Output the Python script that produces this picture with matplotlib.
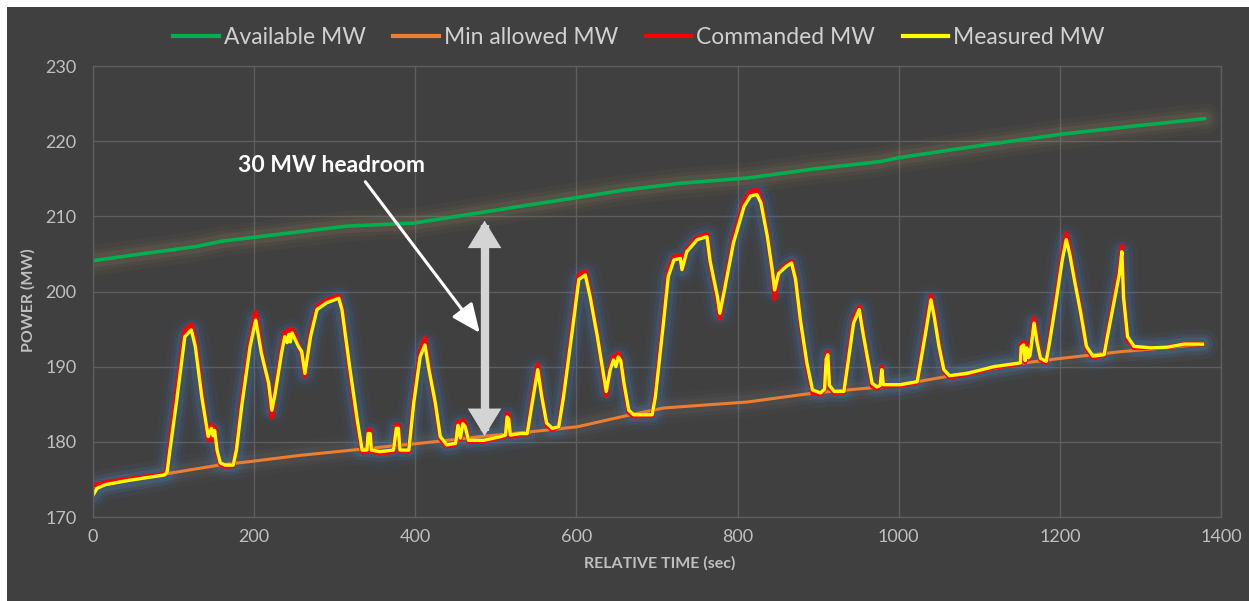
import matplotlib
matplotlib.use("Agg")
import matplotlib.pyplot as plt
from matplotlib.lines import Line2D
from matplotlib.patches import Rectangle

# ---------------- data ----------------
t_sec = [0, 5, 15, 40, 89, 92, 95, 104, 114, 122,
         127, 135, 143, 147, 149, 151, 154, 158, 164, 174,
         178, 185, 195, 202, 209, 218, 222, 226, 234, 238,
         241, 243, 245, 247, 251, 255, 259, 263, 270, 278,
         290, 305, 309, 319, 328, 334, 340, 341.5, 344, 345.5,
         356, 373, 376.5, 379, 381, 392, 398, 406, 412, 417,
         425, 431, 439, 450, 453, 456, 459, 462, 466, 485,
         506, 512, 514, 516, 518, 530, 539, 545, 552, 557,
         563, 570, 578, 584, 595, 603, 611, 617, 626, 634,
         637, 642, 646, 649, 652, 655, 659, 665, 671, 694,
         698, 708, 714, 721, 729, 731, 737, 750, 762, 766,
         775, 778, 783, 795, 808, 816, 824, 829, 837, 843,
         846, 851, 860, 867, 872, 878, 886, 893, 903, 908,
         910, 912, 914, 920, 932, 938, 944, 951, 955, 961,
         967, 973, 977, 979, 981, 1002, 1023, 1027, 1034, 1040,
         1044, 1050, 1056, 1063, 1085, 1118, 1151, 1152, 1155, 1157,
         1159, 1161, 1163, 1168, 1172, 1176, 1183, 1187, 1195, 1203,
         1208, 1212, 1218, 1226, 1233, 1241, 1255, 1259, 1267, 1274,
         1277, 1279, 1284, 1292, 1313, 1334, 1354, 1377]

measured_mw = [172.9, 173.8, 174.3, 174.8, 175.6, 176.0, 178.5, 185.6, 194.0, 194.9,
               192.7, 186.0, 180.7, 181.8, 180.8, 181.5, 178.9, 177.2, 176.9, 176.9,
               178.9, 185.1, 192.7, 196.2, 191.8, 187.8, 184.2, 186.4, 191.8, 194.0,
               193.2, 194.3, 193.3, 194.5, 193.6, 192.7, 192.0, 189.1, 194.0, 197.6,
               198.5, 199.1, 197.6, 189.6, 182.9, 178.9, 178.9, 181.1, 181.1, 178.9,
               178.7, 178.9, 181.8, 181.8, 178.9, 178.9, 185.1, 191.3, 192.9, 189.6,
               185.1, 180.7, 179.6, 179.8, 182.2, 180.5, 182.4, 182.0, 180.2, 180.2,
               180.7, 180.9, 183.3, 183.0, 180.9, 181.1, 181.1, 185.1, 189.6, 186.0,
               182.5, 181.8, 182.0, 186.0, 194.9, 201.6, 202.2, 199.3, 194.0, 188.7,
               186.7, 189.6, 190.9, 190.0, 191.3, 190.8, 187.8, 184.2, 183.6, 183.6,
               186.0, 195.8, 202.0, 204.2, 204.4, 202.9, 205.3, 206.9, 207.3, 204.0,
               199.3, 197.1, 199.8, 206.5, 211.3, 212.7, 212.9, 211.8, 207.3, 202.9,
               200.2, 202.4, 203.3, 203.8, 201.6, 196.2, 190.5, 186.9, 186.5, 187.0,
               191.0, 191.6, 187.5, 186.7, 186.7, 191.3, 195.8, 197.6, 194.9, 191.3,
               187.8, 187.3, 187.5, 189.6, 187.6, 187.6, 188.0, 190.5, 194.9, 198.9,
               196.7, 192.7, 189.6, 188.8, 189.1, 190.0, 190.5, 192.6, 192.9, 190.8,
               192.5, 191.2, 191.5, 195.8, 193.1, 191.1, 190.7, 193.1, 198.5, 204.2,
               206.9, 205.1, 201.6, 197.1, 192.7, 191.4, 191.6, 194.0, 198.5, 202.4,
               205.3, 199.3, 194.0, 192.7, 192.5, 192.6, 193.0, 193.0]

commanded_mw = [174.2, 174.3, 174.6, 175.0, 175.7, 176.3, 179.5, 187.0, 194.8, 195.6,
                193.5, 186.5, 180.2, 182.3, 180.3, 181.9, 178.5, 177.0, 176.7, 176.8,
                179.3, 186.0, 193.5, 197.3, 192.3, 187.5, 183.2, 186.8, 192.5, 194.6,
                193.6, 194.9, 193.6, 195.0, 194.0, 192.9, 191.8, 188.7, 194.6, 198.0,
                198.9, 199.4, 197.8, 189.0, 182.2, 178.6, 178.7, 181.6, 181.6, 178.7,
                178.5, 178.7, 182.3, 182.3, 178.7, 178.8, 185.8, 192.0, 193.8, 189.8,
                184.8, 180.4, 179.4, 179.7, 182.7, 180.3, 182.9, 182.5, 180.0, 180.1,
                180.6, 180.8, 183.8, 183.5, 180.7, 181.0, 181.0, 185.8, 190.3, 186.3,
                182.2, 181.6, 182.0, 186.6, 195.6, 202.2, 202.7, 199.6, 194.1, 188.2,
                186.1, 189.9, 191.4, 190.4, 191.8, 191.1, 187.5, 183.9, 183.4, 183.5,
                186.6, 196.5, 202.8, 204.6, 204.8, 202.9, 205.6, 207.2, 207.6, 203.8,
                198.7, 196.4, 200.2, 207.2, 212.0, 213.3, 213.5, 212.2, 207.5, 202.6,
                199.0, 202.6, 203.5, 204.0, 201.7, 195.9, 190.0, 186.5, 186.3, 187.0,
                191.6, 192.0, 187.3, 186.5, 186.6, 191.9, 196.4, 198.0, 195.2, 191.1,
                187.4, 187.1, 187.4, 190.0, 187.4, 187.5, 187.9, 191.0, 195.6, 199.5,
                197.2, 192.9, 189.4, 188.6, 189.0, 189.9, 190.4, 193.0, 193.3, 190.6,
                192.9, 191.0, 191.7, 196.5, 193.6, 190.9, 190.5, 193.6, 199.2, 205.0,
                207.7, 205.6, 201.9, 197.2, 192.4, 191.2, 191.5, 194.4, 199.2, 203.1,
                206.1, 199.5, 193.5, 192.5, 192.5, 192.6, 193.0, 193.0]

avail_t = [0, 60, 129, 160, 199, 260, 315, 398, 440, 481, 540, 601, 660, 729,
           812, 895, 978, 1000, 1100, 1200, 1300, 1380]
avail_mw = [204.1, 205.0, 206.0, 206.7, 207.2, 208.0, 208.7, 209.1, 209.8, 210.5,
            211.5, 212.5, 213.5, 214.4, 215.1, 216.3, 217.3, 217.8, 219.4, 220.9,
            222.1, 223.0]

min_t = [0, 20, 94, 156, 197, 257, 340, 423, 481, 540, 601, 667, 708, 812, 895,
         978, 1002, 1060, 1156, 1201, 1276, 1330, 1377]
min_mw = [174.0, 174.4, 175.8, 176.9, 177.4, 178.2, 179.1, 180.0, 180.7, 181.3,
          182.0, 183.6, 184.5, 185.3, 186.5, 187.3, 187.6, 188.7, 190.5, 191.1,
          192.0, 192.5, 193.0]

headroom_t = 486
headroom_low, headroom_high = 180.4, 209.8

x_ticks = [0, 200, 400, 600, 800, 1000, 1200, 1400]
y_ticks = [170, 180, 190, 200, 210, 220, 230]

assert len(t_sec) == len(measured_mw) == len(commanded_mw)

# ---------------- style ----------------
BG = "#404040"
GRID = "#5e5e5e"
TXT = "#bfbfbf"
C_AVAIL = "#00b050"
C_MIN = "#ed7d31"
C_CMD = "#ff0000"
C_MEAS = "#ffff00"
FONT = ["Lato", "DejaVu Sans"]
plt.rcParams["font.family"] = FONT

W, H = 1249, 601
fig = plt.figure(figsize=(W / 100, H / 100), dpi=100, facecolor="white")
fig.patches.append(Rectangle((7 / W, 0), 1 - 7 / W, 1 - 7 / H, transform=fig.transFigure,
                             facecolor=BG, edgecolor="none", zorder=-10))

ax = fig.add_axes([93 / W, (H - 517) / H, (1221 - 93) / W, (517 - 66) / H])
ax.set_zorder(1)
ax.set_facecolor(BG)
ax.set_xlim(0, 1400)
ax.set_ylim(170, 230)
ax.set_xticks(x_ticks)
ax.set_yticks(y_ticks)
ax.grid(True, color=GRID, lw=1.0)
ax.set_axisbelow(True)
for s in ax.spines.values():
    s.set_color(GRID)
    s.set_linewidth(1.0)
ax.tick_params(length=0, colors=TXT, labelsize=13, pad=9)
ax.tick_params(axis="y", pad=12)
for lab in ax.get_xticklabels() + ax.get_yticklabels():
    lab.set_color(TXT)

# glows
for lw, a in [(22, 0.05), (15, 0.08), (10, 0.11)]:
    ax.plot(avail_t, avail_mw, color="#a89060", lw=lw, alpha=a, solid_capstyle="round")
    ax.plot(min_t, min_mw, color="#8a8a8a", lw=lw, alpha=a * 0.8, solid_capstyle="round")
for lw, a in [(22, 0.07), (15, 0.12), (10, 0.20)]:
    ax.plot(t_sec, measured_mw, color="#3f78b8", lw=lw, alpha=a, solid_capstyle="round",
            solid_joinstyle="round")

ax.plot(avail_t, avail_mw, color=C_AVAIL, lw=2.6, solid_capstyle="round")
ax.plot(min_t, min_mw, color=C_MIN, lw=2.2, solid_capstyle="round")
ax.plot(t_sec, commanded_mw, color=C_CMD, lw=3.2, solid_joinstyle="round")
ax.plot(t_sec, measured_mw, color=C_MEAS, lw=2.4, solid_joinstyle="round")

# headroom double arrow
AR = "#d4d4d4"
ax.plot([headroom_t, headroom_t], [headroom_low + 1.0, headroom_high - 1.0],
        color=AR, lw=6, solid_capstyle="butt", zorder=5)
for y0, y1 in [(headroom_low + 2, headroom_low), (headroom_high - 2, headroom_high)]:
    ax.annotate("", xy=(headroom_t, y1), xytext=(headroom_t, y0),
                arrowprops=dict(arrowstyle="-|>,head_length=0.9,head_width=0.55",
                                color=AR, lw=0, mutation_scale=22), zorder=5)

# annotation
ax.text(296, 216.8, "30 MW headroom", ha="center", va="center", color="white",
        fontsize=16.5, fontweight="bold", zorder=6)
ax.annotate("", xy=(480, 194.5), xytext=(338, 214.6),
            arrowprops=dict(arrowstyle="-|>,head_length=0.8,head_width=0.35",
                            color="white", lw=2.2, mutation_scale=22,
                            shrinkA=0, shrinkB=0), zorder=6)

# axis titles
fig.text(660 / W, 1 - 563 / H, "RELATIVE TIME (sec)", ha="center", va="center",
         color=TXT, fontsize=11.5, fontweight="bold")
fig.text(28 / W, 1 - 300 / H, "POWER (MW)", ha="center", va="center", rotation=90,
         color=TXT, fontsize=11.5, fontweight="bold")

handles = [Line2D([], [], color=C_AVAIL, lw=3),
           Line2D([], [], color=C_MIN, lw=3),
           Line2D([], [], color=C_CMD, lw=3),
           Line2D([], [], color=C_MEAS, lw=3)]
labels = ["Available MW", "Min allowed MW", "Commanded MW", "Measured MW"]
leg = fig.legend(handles, labels, loc="center", bbox_to_anchor=(639 / W, 1 - 38 / H), ncol=4,
                 frameon=False, fontsize=16.5, handlelength=2.0, handletextpad=0.2,
                 columnspacing=1.2)
for t in leg.get_texts():
    t.set_color("#d0d0d0")

fig.savefig("out.png", dpi=100, facecolor="white")
